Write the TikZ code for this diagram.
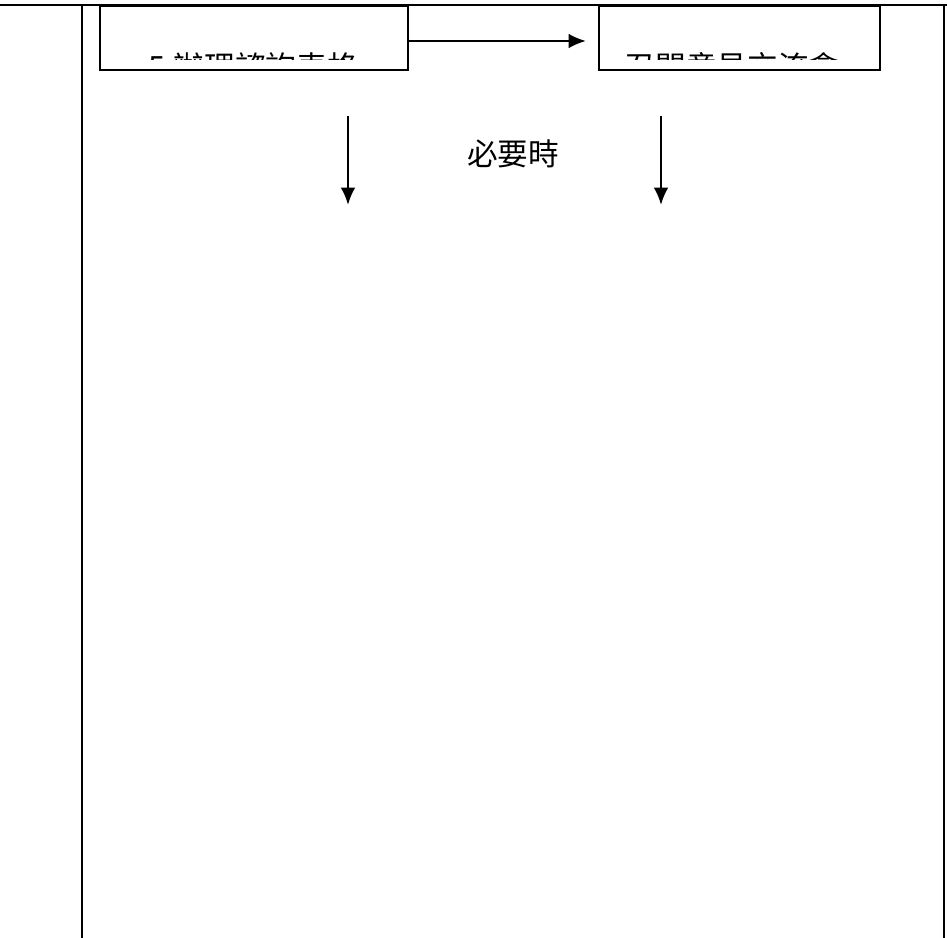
\documentclass[tikz,border=0pt]{standalone}
\usepackage{fontspec}
\newfontfamily\cjk{Noto Sans CJK TC}
\usetikzlibrary{arrows.meta}
\begin{document}
\begin{tikzpicture}[x=0.75pt,y=-0.75pt,
	kasten/.style={draw,line width=1.3pt,minimum width=#1,minimum height=48pt,inner sep=0pt},
	schrift/.style={font=\cjk\fontsize{23}{27}\selectfont,inner sep=0pt},
	pfeil/.style={line width=1.8pt,-{Latex[length=13pt,width=11pt]}}]
	\useasboundingbox (0,0) rectangle (947,938);
	\draw[line width=2pt] (0,5) -- (947,5);%Linie oben
	\draw[line width=2pt] (82,5) -- (82,938);%Rahmen links
	\draw[line width=2pt] (944,5) -- (944,938);%Rahmen rechts
	\node[kasten=231pt,anchor=north west] (beratung) at (99,5) {};%linker Kasten
	\node[kasten=211pt,anchor=north west] (sitzung) at (598,5) {};%rechter Kasten
	\begin{scope}
		\clip (99,5) rectangle (879,60);%Text abgeschnitten
		\node[schrift] (beratungtext) at (253,67) {5.辦理諮詢表格};
		\node[schrift] (sitzungtext) at (732,67) {召開意見交流會};
	\end{scope}
	\draw[pfeil] (beratung.east |- 0,41) -- ([xshift=-9pt]sitzung.west |- 0,41);

	%%%%%%
	%Pfeile nach unten
	\coordinate (A) at (348,116);
	\coordinate (a) at (348,205);
	\coordinate (B) at (661,116);
	\coordinate (b) at (661,205);
	\draw[pfeil] (A) -- (a);
	\draw[pfeil] (B) -- (b);
	\node[schrift] (bedarf) at (513,154) {必要時};
\end{tikzpicture}
\end{document}
